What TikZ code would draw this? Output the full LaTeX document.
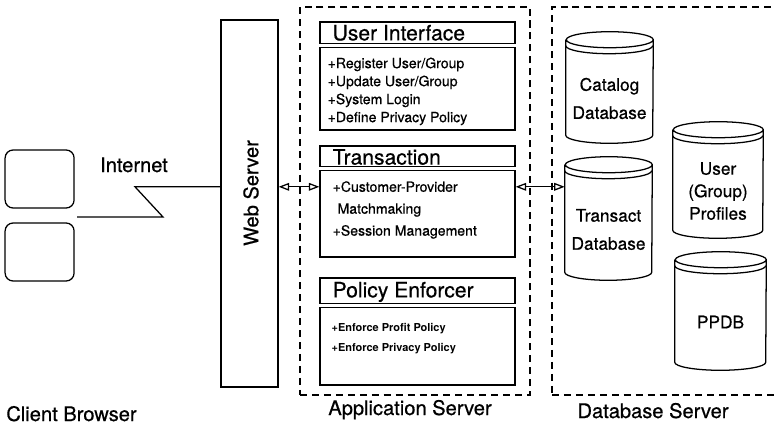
\documentclass[tikz,border=0pt]{standalone}
\usepackage{fontspec}
\setmainfont{TeX Gyre Heros}[UprightFeatures={FakeBold=0.6}]
\usetikzlibrary{arrows.meta,calc}

% database drum: name, centre x, centre y, width, body height, label
\newcommand{\dbstore}[6]{%
  \node[dbbody, minimum width=#4cm, minimum height=#5cm] (#1) at (#2,#3) {#6};
  \draw[line] ($(#1.north west)+(0,0.35)$) -- ($(#1.south west)+(0,0.2)$)
    arc[start angle=180, end angle=360, x radius=#4/2, y radius=0.2]
    -- ($(#1.north east)+(0,0.35)$)
    arc[start angle=0, end angle=360, x radius=#4/2, y radius=0.2];
  \draw[line] ($(#1.north west)+(0,0.2)$)
    arc[start angle=180, end angle=360, x radius=#4/2, y radius=0.2];
}

\begin{document}
\begin{tikzpicture}[
    line/.style={line width=0.9pt},
    client/.style={line, draw, rounded corners=0.2cm, minimum width=1.725cm, minimum height=1.45cm},
    serverbox/.style={draw, line width=0.9pt, dash pattern=on 5pt off 3.5pt},
    webbox/.style={line, draw, minimum width=1.425cm, minimum height=9.175cm},
    classbox/.style={line, draw, minimum width=4.875cm},
    classtitle/.style={inner sep=0, font=\fontsize{15}{17}\selectfont},
    classitems/.style={inner sep=0, align=left},
    divider/.style={line width=0.8pt, double, double distance=0.07cm},
    dbbody/.style={inner sep=0, align=center, font=\fontsize{12.3}{20}\selectfont},
    caption/.style={inner sep=0, font=\fontsize{14.3}{17}\selectfont},
    link/.style={line, {Triangle[open,length=7.5pt,width=5.5pt]}-{Triangle[open,length=7.5pt,width=5.5pt]}}
]
\useasboundingbox (0,0) rectangle (19.4,10.7);

% Client side
\node[client] (pc1) at (0.99,6.225) {};
\node[client] (pc2) at (0.99,4.4) {};
\node[caption, anchor=base] (browser) at (1.7875,0.175) {Client Browser};

% Web server
\node[webbox] (web) at (6.2375,5.6125) {};
\node[caption, rotate=90] (weblabel) at (6.275,5.875) {Web Server};

% Internet link
\coordinate (rpc) at (0,6.03);
\coordinate (lan) at (1.925,5.275);
\node[caption, anchor=base] (inet) at (3.35,6.4) {Internet};
\draw[line] (lan) -- ++(2.15,0) -- ++(-0.7,0.755) -- (web.west |- rpc);

% Application server
\node[serverbox, minimum width=5.75cm, minimum height=9.7cm] (appsrv) at (10.375,5.675) {};
\node[caption, anchor=base] (applabel) at (10.25,0.325) {Application Server};

\node[classbox, minimum height=2.7cm] (ui) at (10.4375,8.8) {};
\node[classtitle, anchor=base west] (uititle) at ($(ui.north west)+(0.325,-0.475)$) {User Interface};
\draw[divider] ($(ui.north west)+(0,-0.6)$) -- ($(ui.north east)+(0,-0.6)$);
\node[classitems, anchor=north west, font=\fontsize{10}{12.8}\selectfont] (uiops)
  at ($(ui.north west)+(0.2,-0.9)$)
  {+Register User/Group\\+Update User/Group\\+System Login\\+Define Privacy Policy};

\node[classbox, minimum height=2.775cm] (trans) at (10.4375,5.6625) {};
\node[classtitle, anchor=base west] (transtitle) at ($(trans.north west)+(0.325,-0.48)$) {Transaction};
\draw[divider] ($(trans.north west)+(0,-0.57)$) -- ($(trans.north east)+(0,-0.57)$);
\node[classitems, anchor=north west, font=\fontsize{10}{15.6}\selectfont] (transops)
  at ($(trans.north west)+(0.325,-0.89)$)
  {+Customer-Provider\\\hspace*{3.5pt}Matchmaking\\+Session Management};

\node[classbox, minimum height=2.675cm] (policy) at (10.4375,2.4125) {};
\node[classtitle, anchor=base west] (policytitle) at ($(policy.north west)+(0.325,-0.5)$) {Policy Enforcer};
\draw[divider] ($(policy.north west)+(0,-0.7)$) -- ($(policy.north east)+(0,-0.7)$);
\node[classitems, anchor=north west, font=\bfseries\fontsize{7.8}{14.2}\selectfont] (policyops)
  at ($(policy.north west)+(0.3,-1.14)$)
  {+Enforce Profit Policy\\+Enforce Privacy Policy};

% Database server
\node[serverbox, minimum width=5.8cm, minimum height=9.7cm] (dbsrv) at (16.7,5.675) {};
\node[caption, anchor=base] (dblabel) at (16.325,0.25) {Database Server};

\dbstore{catalog}{15.2375}{8.2375}{2.175}{2.225}{Catalog\\Database}
\dbstore{transact}{15.2125}{4.9625}{2.175}{2.525}{Transact\\Database}
\dbstore{profiles}{17.95}{5.925}{2.25}{2.35}{User\\[-4pt](Group)\\[-4pt]Profiles}
\dbstore{ppdb}{18.0125}{2.65}{2.275}{2.4}{PPDB}

% Requests between the tiers
\draw[link] (web.east |- rpc) -- (trans.west |- rpc);
\draw[link] (trans.east |- rpc) -- (transact.west |- rpc);

\end{tikzpicture}
\end{document}
